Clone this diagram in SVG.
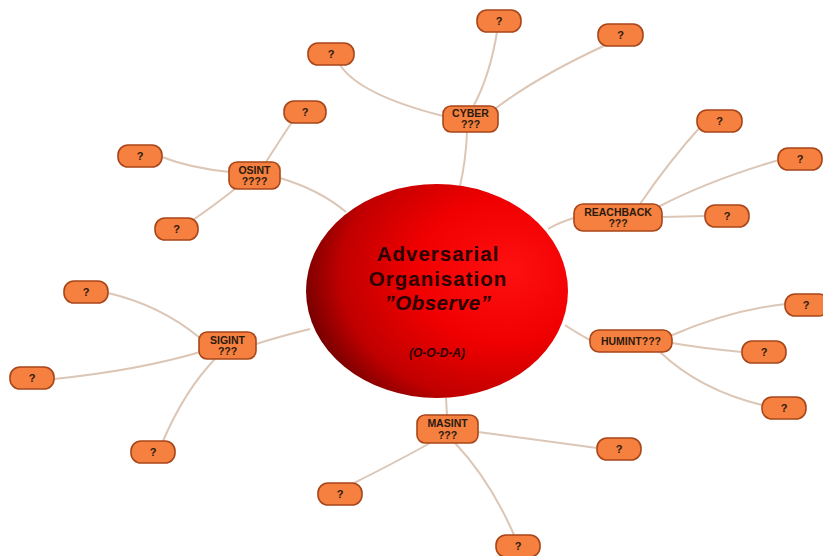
<svg xmlns="http://www.w3.org/2000/svg" width="823" height="556" viewBox="0 0 823 556">
  <defs>
    <radialGradient id="sphere" cx="0.72" cy="0.42" r="0.75" fx="0.78" fy="0.4">
      <stop offset="0" stop-color="#ff1010"/>
      <stop offset="0.45" stop-color="#f00000"/>
      <stop offset="0.8" stop-color="#c00000"/>
      <stop offset="1" stop-color="#700000"/>
    </radialGradient>
    <style>
      .link { fill: none; stroke: #dcc6b6; stroke-width: 2; }
      .box { fill: #f5803f; stroke: #a8461a; stroke-width: 1.6; }
      .lbl { font-family: "Liberation Sans", Arial, sans-serif; font-weight: bold; font-size: 10.5px; fill: #2b1a10; text-anchor: middle; }
      .q { font-family: "Liberation Sans", Arial, sans-serif; font-weight: bold; font-size: 11px; fill: #2b1a10; text-anchor: middle; }
      .core { font-family: "Liberation Sans", Arial, sans-serif; font-weight: bold; fill: #2a0000; text-anchor: middle; }
    </style>
  </defs>

  <rect width="823" height="556" fill="#ffffff"/>

  <!-- connectors -->
  <g id="connectors">
    <!-- CYBER -->
    <path class="link" d="M467,132 Q466,160 460,186"/>
    <path class="link" d="M340,65 Q360,95 443,116"/>
    <path class="link" d="M497,32 Q490,75 474,105"/>
    <path class="link" d="M608,44 Q540,75 496,108"/>
    <!-- OSINT -->
    <path class="link" d="M280,178 Q320,190 346,212"/>
    <path class="link" d="M292,122 Q280,140 266,162"/>
    <path class="link" d="M162,157 Q190,168 230,172"/>
    <path class="link" d="M190,222 Q215,205 236,188"/>
    <!-- REACHBACK -->
    <path class="link" d="M574,218 Q560,222 548,229"/>
    <path class="link" d="M702,125 Q670,160 640,204"/>
    <path class="link" d="M779,160 Q710,180 658,207"/>
    <path class="link" d="M705,216 L662,217"/>
    <!-- HUMINT -->
    <path class="link" d="M590,340 Q575,332 565,325"/>
    <path class="link" d="M786,304 Q730,310 670,336"/>
    <path class="link" d="M742,352 Q700,348 672,343"/>
    <path class="link" d="M762,405 Q700,390 660,352"/>
    <!-- SIGINT -->
    <path class="link" d="M256,344 Q285,335 310,329"/>
    <path class="link" d="M108,293 Q160,305 200,338"/>
    <path class="link" d="M54,379 Q140,370 200,352"/>
    <path class="link" d="M163,441 Q185,390 215,359"/>
    <!-- MASINT -->
    <path class="link" d="M447,415 L446,398"/>
    <path class="link" d="M597,448 Q540,440 478,432"/>
    <path class="link" d="M352,484 Q400,460 430,443"/>
    <path class="link" d="M514,535 Q490,480 455,443"/>
  </g>

  <!-- central sphere -->
  <g id="core">
    <ellipse cx="437" cy="291" rx="131" ry="107" fill="url(#sphere)"/>
    <text class="core" x="438" y="261" font-size="20.5" letter-spacing="1">Adversarial</text>
    <text class="core" x="438" y="285.5" font-size="20.5" letter-spacing="1">Organisation</text>
    <text class="core" x="438" y="310" font-size="20.5" font-style="italic" letter-spacing="0.5">”Observe”</text>
    <text class="core" x="437" y="357" font-size="12" font-style="italic">(O-O-D-A)</text>
  </g>

  <!-- category nodes -->
  <g id="cyber">
    <rect class="box" x="443" y="106" width="55" height="26" rx="8"/>
    <text class="lbl" x="470.5" y="117">CYBER</text>
    <text class="lbl" x="470.5" y="128">???</text>
  </g>
  <g id="osint">
    <rect class="box" x="229" y="162" width="51" height="27" rx="8"/>
    <text class="lbl" x="254.5" y="174">OSINT</text>
    <text class="lbl" x="254.5" y="185">????</text>
  </g>
  <g id="reachback">
    <rect class="box" x="574" y="204" width="88" height="27" rx="9"/>
    <text class="lbl" x="618" y="216">REACHBACK</text>
    <text class="lbl" x="618" y="227">???</text>
  </g>
  <g id="humint">
    <rect class="box" x="590" y="330" width="82" height="22" rx="9"/>
    <text class="lbl" x="631" y="345">HUMINT???</text>
  </g>
  <g id="sigint">
    <rect class="box" x="199" y="332" width="57" height="27" rx="8"/>
    <text class="lbl" x="227.5" y="344">SIGINT</text>
    <text class="lbl" x="227.5" y="355">???</text>
  </g>
  <g id="masint">
    <rect class="box" x="417" y="415" width="61" height="28" rx="8"/>
    <text class="lbl" x="447.5" y="427">MASINT</text>
    <text class="lbl" x="447.5" y="439">???</text>
  </g>

  <!-- leaf nodes -->
  <g id="cyber-q1"><rect class="box" x="308" y="43" width="46" height="22" rx="10"/><text class="q" x="331" y="58">?</text></g>
  <g id="cyber-q2"><rect class="box" x="477" y="10" width="44" height="22" rx="10"/><text class="q" x="499" y="25">?</text></g>
  <g id="cyber-q3"><rect class="box" x="598" y="24" width="45" height="22" rx="10"/><text class="q" x="620.5" y="39">?</text></g>
  <g id="osint-q1"><rect class="box" x="284" y="101" width="42" height="22" rx="10"/><text class="q" x="305" y="116">?</text></g>
  <g id="osint-q2"><rect class="box" x="118" y="145" width="44" height="22" rx="10"/><text class="q" x="140" y="160">?</text></g>
  <g id="osint-q3"><rect class="box" x="155" y="218" width="43" height="22" rx="10"/><text class="q" x="176.5" y="233">?</text></g>
  <g id="reach-q1"><rect class="box" x="697" y="110" width="45" height="22" rx="10"/><text class="q" x="719.5" y="125">?</text></g>
  <g id="reach-q2"><rect class="box" x="778" y="148" width="44" height="22" rx="10"/><text class="q" x="800" y="163">?</text></g>
  <g id="reach-q3"><rect class="box" x="705" y="205" width="44" height="22" rx="10"/><text class="q" x="727" y="220">?</text></g>
  <g id="humint-q1"><rect class="box" x="785" y="294" width="44" height="22" rx="10"/><text class="q" x="806" y="309">?</text></g>
  <g id="humint-q2"><rect class="box" x="742" y="341" width="44" height="22" rx="10"/><text class="q" x="764" y="356">?</text></g>
  <g id="humint-q3"><rect class="box" x="762" y="397" width="44" height="22" rx="10"/><text class="q" x="784" y="412">?</text></g>
  <g id="sigint-q1"><rect class="box" x="64" y="281" width="44" height="22" rx="10"/><text class="q" x="86" y="296">?</text></g>
  <g id="sigint-q2"><rect class="box" x="10" y="367" width="44" height="22" rx="10"/><text class="q" x="32" y="382">?</text></g>
  <g id="sigint-q3"><rect class="box" x="131" y="441" width="44" height="22" rx="10"/><text class="q" x="153" y="456">?</text></g>
  <g id="masint-q1"><rect class="box" x="597" y="438" width="44" height="22" rx="10"/><text class="q" x="619" y="453">?</text></g>
  <g id="masint-q2"><rect class="box" x="318" y="483" width="44" height="22" rx="10"/><text class="q" x="340" y="498">?</text></g>
  <g id="masint-q3"><rect class="box" x="496" y="535" width="44" height="22" rx="10"/><text class="q" x="518" y="550">?</text></g>
</svg>
